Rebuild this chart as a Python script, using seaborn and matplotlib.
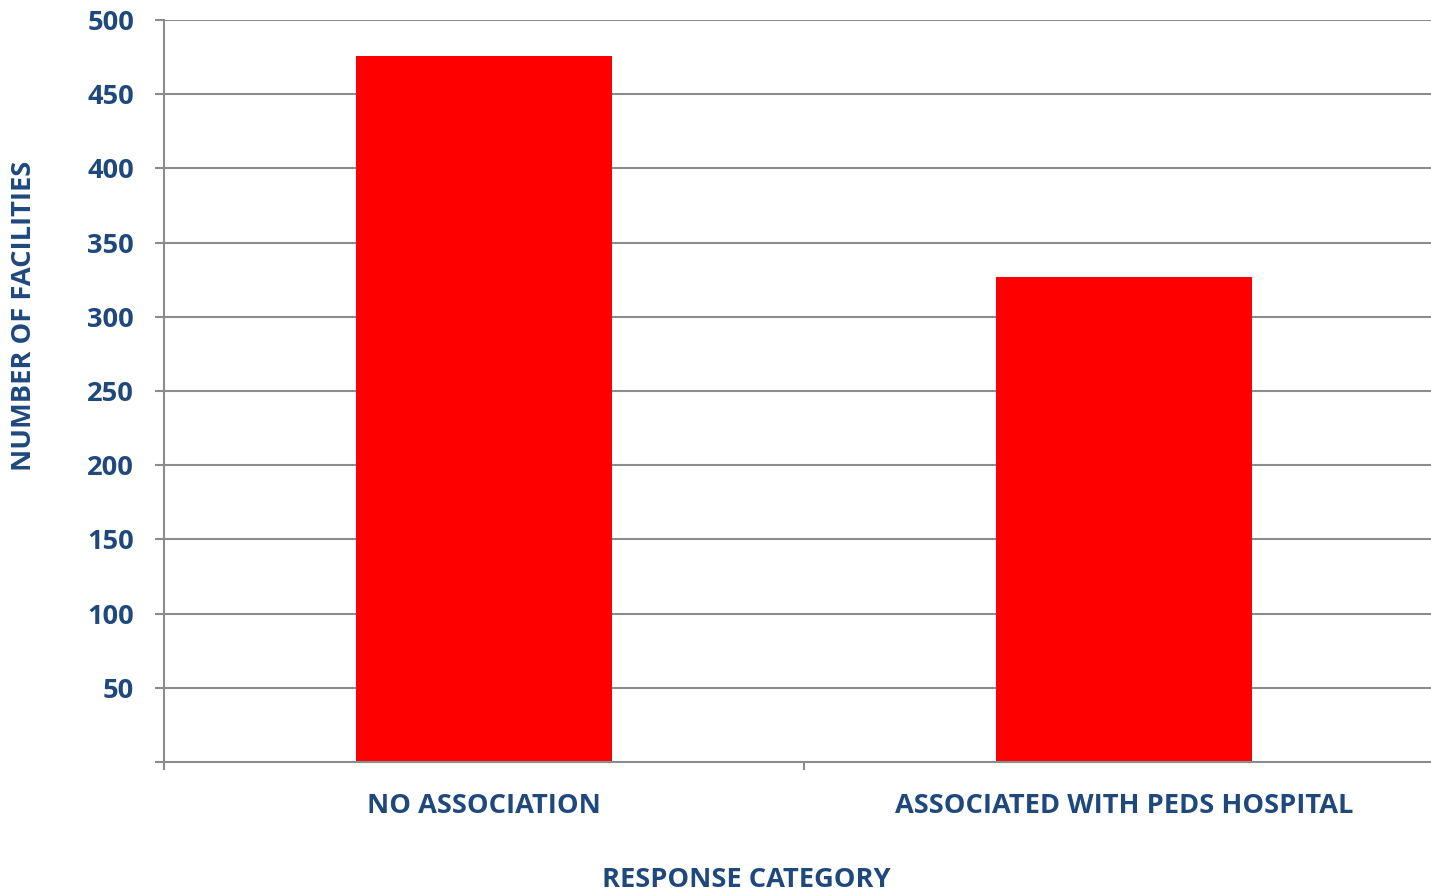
import matplotlib
matplotlib.use("Agg")
import matplotlib.pyplot as plt
import seaborn as sns
import pandas as pd
from matplotlib.ticker import FixedLocator

categories = ["NO ASSOCIATION", "ASSOCIATED WITH PEDS HOSPITAL"]
values = [476, 327]
y_ticks = [50, 100, 150, 200, 250, 300, 350, 400, 450, 500]

sns.set_theme(style="white")
plt.rcParams['font.family'] = ['Open Sans', 'DejaVu Sans']

TXT = "#1F497D"
GRID = "#8C8C8C"
FS = 19.6

df = pd.DataFrame({"category": categories, "value": values})

fig = plt.figure(figsize=(14.31, 8.94), dpi=100)
ax = fig.add_axes([164/1431, 1-762/894, (1444-164)/1431, (762-20)/894])

sns.barplot(data=df, x="category", y="value", color="#FF0000", width=0.4,
            saturation=1, ax=ax, zorder=3, edgecolor="none")

ax.set_ylim(0, 500)
ax.set_xlim(-0.5, 1.5)
ax.set_yticks(y_ticks)
ax.set_yticklabels([str(v) for v in y_ticks])
ax.yaxis.grid(True, color=GRID, linewidth=1.5, zorder=0)
ax.set_axisbelow(True)

for s in ["top", "right"]:
    ax.spines[s].set_visible(False)
for s in ["left", "bottom"]:
    ax.spines[s].set_color(GRID)
    ax.spines[s].set_linewidth(1.5)
    ax.spines[s].set_zorder(4)

ax.tick_params(axis="y", which="major", left=True, length=6.5, width=1.5,
               color=GRID, pad=15, labelsize=FS, labelcolor=TXT)
for lab in ax.get_yticklabels():
    lab.set_fontweight("bold")
ax.yaxis.set_minor_locator(FixedLocator([0]))
ax.tick_params(axis="y", which="minor", left=True, length=6.5, width=1.5, color=GRID)

ax.tick_params(axis="x", which="major", bottom=False, length=0, pad=22.5,
               labelsize=FS, labelcolor=TXT)
for lab in ax.get_xticklabels():
    lab.set_fontweight("bold")
ax.xaxis.set_minor_locator(FixedLocator([-0.5, 0.5]))
ax.tick_params(axis="x", which="minor", bottom=True, length=6, width=1.5, color=GRID)

ax.set_xlabel("")
ax.set_ylabel("")

fig.text(746/1431, 1-880/894, "RESPONSE CATEGORY", ha="center", va="center",
         fontsize=FS, fontweight="bold", color=TXT)
fig.text(24/1431, 1-316/894, "NUMBER OF FACILITIES", ha="center", va="center",
         rotation=90, fontsize=FS, fontweight="bold", color=TXT)

fig.savefig("out.png", dpi=100, facecolor="white")
